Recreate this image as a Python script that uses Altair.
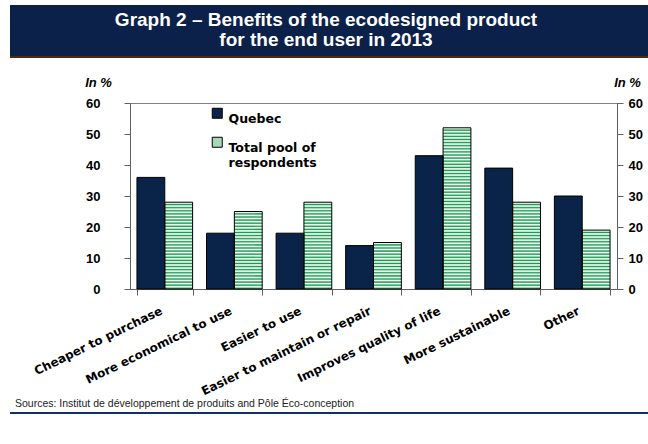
import altair as alt
import pandas as pd

categories = ["Cheaper to purchase", "More economical to use", "Easier to use",
              "Easier to maintain or repair", "Improves quality of life",
              "More sustainable", "Other"]
series = ["Quebec", "Total pool of respondents"]
quebec = [36, 18, 18, 14, 43, 39, 30]
total = [28, 25, 28, 15, 52, 28, 19]
y_ticks = [0, 10, 20, 30, 40, 50, 60]
title_lines = ["Graph 2 \u2013 Benefits of the ecodesigned product", "for the end user in 2013"]
source_text = "Sources: Institut de d\u00e9veloppement de produits and P\u00f4le \u00c9co-conception"
axis_title = "In %"

NAVY = "#0a2348"
GREEN_BASE = "#a6dab6"
GREEN_DARK = "#1a9a56"

rows = []
for c, q, t in zip(categories, quebec, total):
    rows.append({"category": c, "series": series[0], "value": q})
    rows.append({"category": c, "series": series[1], "value": t})
bars_df = pd.DataFrame(rows)

stripe_rows = []
for c, t in zip(categories, total):
    k = 0
    while k < t:
        stripe_rows.append({"category": c, "series": series[1], "kind": "dark",
                            "y0": k + 0.05, "y1": min(k + 0.4, t)})
        if k + 0.6 < t:
            stripe_rows.append({"category": c, "series": series[1], "kind": "white",
                                "y0": k + 0.6, "y1": min(k + 0.9, t)})
        k += 1
stripes_df = pd.DataFrame(stripe_rows)

one = pd.DataFrame({"a": [0]})

x_axis = alt.Axis(title=None, labelAngle=334, labelAlign="right", labelBaseline="top",
                  labelFont="DejaVu Sans", labelFontWeight="bold", labelFontSize=12,
                  labelColor="black", labelPadding=10, labelOffset=-6, tickBand="extent",
                  tickSize=6, tickColor="#606060", domainColor="#606060", labelLimit=300)
x_enc = alt.X("category:N", sort=categories,
              scale=alt.Scale(domain=categories, paddingInner=0.2, paddingOuter=0.1),
              axis=x_axis)
xo_enc = alt.XOffset("series:N", sort=series,
                     scale=alt.Scale(domain=series, paddingInner=0, paddingOuter=0))
y_scale = alt.Scale(domain=[0, 60], nice=False)

common_axis = dict(values=y_ticks, grid=False, labelFont="Liberation Sans",
                   labelFontSize=13, labelFontWeight="bold", labelColor="black",
                   tickSize=6, tickColor="#606060", domainColor="#606060",
                   title=axis_title, titleAngle=0, titleAlign="center",
                   titleBaseline="middle", titleFont="Liberation Sans",
                   titleFontSize=13, titleFontStyle="italic", titleFontWeight="bold",
                   titleColor="black", titleY=-21)
left_axis = alt.Axis(orient="left", labelPadding=24, titleX=-32, **common_axis)
right_axis = alt.Axis(orient="right", labelPadding=5, titleX=10, **common_axis)

legend = alt.Legend(title=None, orient="none", legendX=81, legendY=4,
                    symbolType="square", symbolSize=100, symbolStrokeColor="black",
                    symbolStrokeWidth=1, labelFont="DejaVu Sans", labelFontWeight="bold",
                    labelFontSize=12.5, labelColor="black", labelOffset=5,
                    rowPadding=9, labelBaseline="top",
                    labelExpr="datum.label == 'Total pool of respondents' ? ['Total pool of', 'respondents'] : datum.label")

bars = alt.Chart(bars_df).mark_bar(strokeWidth=0).encode(
    x=x_enc, xOffset=xo_enc,
    y=alt.Y("value:Q", scale=y_scale, axis=left_axis),
    color=alt.Color("series:N", sort=series,
                    scale=alt.Scale(domain=series, range=[NAVY, GREEN_BASE]),
                    legend=legend),
)

dark = alt.Chart(stripes_df).transform_filter(alt.datum.kind == "dark").mark_bar(
    fill=GREEN_DARK, strokeWidth=0).encode(
    x=x_enc, xOffset=xo_enc,
    y=alt.Y("y0:Q", scale=y_scale, axis=None), y2="y1:Q")

white = alt.Chart(stripes_df).transform_filter(alt.datum.kind == "white").mark_bar(
    fill="white", strokeWidth=0).encode(
    x=x_enc, xOffset=xo_enc,
    y=alt.Y("y0:Q", scale=y_scale, axis=None), y2="y1:Q")

outline = alt.Chart(bars_df).mark_bar(fillOpacity=0, stroke="black", strokeWidth=1).encode(
    x=x_enc, xOffset=xo_enc,
    y=alt.Y("value:Q", scale=y_scale, axis=right_axis))

banner = alt.Chart(one).mark_rect(color="#0b2149").encode(
    x=alt.value(-120), x2=alt.value(520), y=alt.value(-98), y2=alt.value(-47))
brown = alt.Chart(one).mark_rect(color="#4d2c0c").encode(
    x=alt.value(-120), x2=alt.value(520), y=alt.value(-47), y2=alt.value(-45))
t1 = alt.Chart(one).mark_text(font="Liberation Sans", fontWeight="bold", fontSize=19,
                              color="white", align="center", baseline="middle").encode(
    x=alt.value(196), y=alt.value(-83), text=alt.value(title_lines[0]))
t2 = alt.Chart(one).mark_text(font="Liberation Sans", fontWeight="bold", fontSize=19,
                              color="white", align="center", baseline="middle").encode(
    x=alt.value(196), y=alt.value(-63), text=alt.value(title_lines[1]))
src = alt.Chart(one).mark_text(font="Liberation Sans", fontSize=10.5, color="#222222",
                               align="left", baseline="middle").encode(
    x=alt.value(-115), y=alt.value(301), text=alt.value(source_text))
blue = alt.Chart(one).mark_rect(color="#14305e").encode(
    x=alt.value(-120), x2=alt.value(520), y=alt.value(309), y2=alt.value(311))

chart = alt.layer(banner, brown, t1, t2, bars, dark, white, outline, src, blue).resolve_scale(
    y="independent"
).properties(
    width=487, height=186,
    autosize=alt.AutoSizeParams(type="none"),
    padding={"left": 130, "top": 103, "right": 31, "bottom": 155},
    background="white",
).configure_view(stroke="#808080", strokeWidth=1)

chart.save("out.html", embed_options={"renderer": "svg", "actions": False})
